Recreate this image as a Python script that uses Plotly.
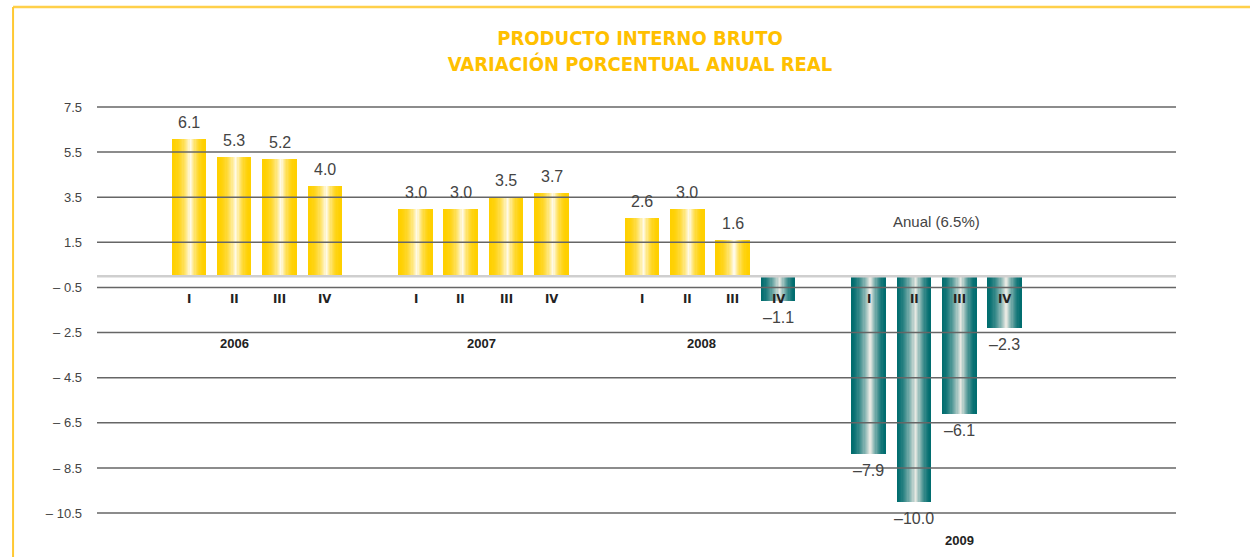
import plotly.graph_objects as go

# ---------------- data ----------------
years = ["2006", "2007", "2008", "2009"]
quarters = ["I", "II", "III", "IV"]
values_2006 = [6.1, 5.3, 5.2, 4.0]
values_2007 = [3.0, 3.0, 3.5, 3.7]
values_2008 = [2.6, 3.0, 1.6, -1.1]
values_2009 = [-7.9, -10.0, -6.1, -2.3]
tick_vals = [7.5, 5.5, 3.5, 1.5, -0.5, -2.5, -4.5, -6.5, -8.5, -10.5]
tick_text = ["7.5", "5.5", "3.5", "1.5", "– 0.5", "– 2.5", "– 4.5", "– 6.5", "– 8.5", "– 10.5"]
annual_note = "Anual (6.5%)"

series = [values_2006, values_2007, values_2008, values_2009]

# ---------------- layout constants ----------------
SLOTS_PER_YEAR = 5          # 4 quarters + 1 gap
BAR_W = 0.745
N_STRIPS = 28
year_label_slot = [1.0, 6.45, 11.3, 17.0]
year_label_shift = [-67, -67, -67, -264]
annual_pos = (16.5, 2.44)

pos, vals, qlabels = [], [], []
for yi, vs in enumerate(series):
    for qi, v in enumerate(vs):
        pos.append(yi * SLOTS_PER_YEAR + qi)
        vals.append(v)
        qlabels.append(quarters[qi])


def mix(c1, c2, f):
    return "rgb(%d,%d,%d)" % tuple(round(a + (b - a) * f) for a, b in zip(c1, c2))


YEL_EDGE, YEL_LIGHT = (255, 208, 0), (255, 251, 236)
TEAL_EDGE, TEAL_LIGHT = (0, 108, 110), (234, 234, 228)
PEAK = 0.56

fig = go.Figure()
for k in range(N_STRIPS):
    t = (k + 0.5) / N_STRIPS
    s = 1 - abs(t - PEAK) / (PEAK if t < PEAK else 1 - PEAK)
    s = max(0.0, s)
    cy = mix(YEL_EDGE, YEL_LIGHT, s ** 2.2)
    ct = mix(TEAL_EDGE, TEAL_LIGHT, s ** 1.6)
    off = -BAR_W / 2 + t * BAR_W
    fig.add_trace(go.Bar(
        x=[p + off for p in pos], y=vals,
        width=BAR_W / N_STRIPS * 1.08,
        marker=dict(color=[cy if v > 0 else ct for v in vals], line=dict(width=0)),
        showlegend=False, hoverinfo="skip",
    ))

# value labels
for p, v in zip(pos, vals):
    txt = ("%.1f" % v).replace("-", "–")
    fig.add_annotation(x=p, y=v, text=txt, showarrow=False,
                       yanchor="bottom" if v > 0 else "top",
                       yshift=6 if v > 0 else -6,
                       font=dict(family="Liberation Sans, Arial, sans-serif", size=16, color="#444444"))

# quarter labels
for p, q in zip(pos, qlabels):
    fig.add_annotation(x=p, y=0, text="<b>%s</b>" % q, showarrow=False, yanchor="middle",
                       yshift=-22,
                       font=dict(family="Liberation Sans Narrow, DejaVu Sans Condensed, Arial Narrow, sans-serif",
                                 size=13, color="#222222"))

# year labels
for yl, xs, ys in zip(years, year_label_slot, year_label_shift):
    fig.add_annotation(x=xs, y=0, text="<b>%s</b>" % yl, showarrow=False, yanchor="middle",
                       yshift=ys,
                       font=dict(family="Liberation Sans, Arial, sans-serif", size=13, color="#222222"))

fig.add_annotation(x=annual_pos[0], y=annual_pos[1], text=annual_note, showarrow=False,
                   font=dict(family="Liberation Sans, Arial, sans-serif", size=15, color="#444444"))

# gridlines drawn above bars
for tv in tick_vals:
    fig.add_shape(type="line", xref="paper", x0=0, x1=1, yref="y", y0=tv, y1=tv,
                  line=dict(color="#666666", width=1.5), layer="above")
fig.add_shape(type="line", xref="paper", x0=0, x1=1, yref="y", y0=0, y1=0,
              line=dict(color="#cfcfcf", width=2.5), layer="above")

# yellow frame (top and left)
fig.add_shape(type="line", xref="paper", yref="paper", x0=-0.0778, x1=1.08, y0=1.1677, y1=1.1677,
              line=dict(color="#FFD04A", width=2.5), layer="above")
fig.add_shape(type="line", xref="paper", yref="paper", x0=-0.0778, x1=-0.0778, y0=1.1677, y1=-0.02,
              line=dict(color="#FFC933", width=2), layer="above")

fig.update_layout(
    width=1250, height=557,
    margin=dict(l=97, r=74, t=85, b=7),
    paper_bgcolor="white", plot_bgcolor="white",
    barmode="overlay", bargap=0,
    title=dict(
        text="<b>PRODUCTO INTERNO BRUTO<br>VARIACIÓN PORCENTUAL ANUAL REAL</b>",
        x=0.512, xanchor="center", y=0.919, yanchor="middle",
        font=dict(family="Liberation Sans Narrow, DejaVu Sans Condensed, Arial Narrow, sans-serif",
                  size=20, color="#FFC000"),
    ),
    xaxis=dict(range=[-2.03, 21.78], showgrid=False, zeroline=False, showticklabels=False,
               showline=False, fixedrange=True),
    yaxis=dict(range=[-12.137, 8.475], tickvals=tick_vals, ticktext=tick_text,
               showgrid=False, zeroline=False, showline=False, ticks="",
               ticklabelstandoff=14, fixedrange=True,
               tickfont=dict(family="Liberation Sans, Arial, sans-serif", size=13, color="#444444")),
)

fig.write_html("out.html", config={"displayModeBar": False},
               post_script="document.body.style.margin='0';")
